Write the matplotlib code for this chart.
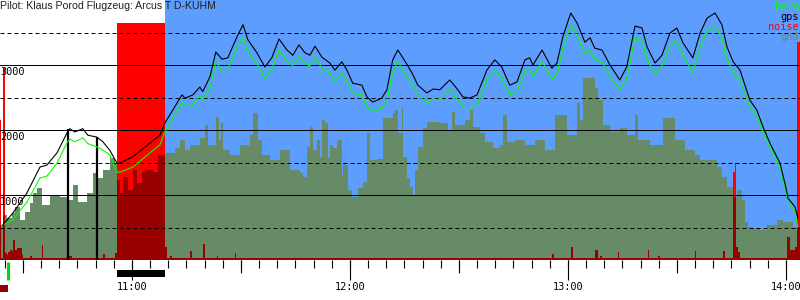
import numpy as np
import matplotlib
matplotlib.use('Agg')
import matplotlib.pyplot as plt
from matplotlib.patches import Rectangle

# time axis: minutes after 10:00
t_start = 23.7
t_end = 243.9

# gps / baro altitude (m)
t = [24.5, 27.2, 31.1, 34.7, 36.6, 39.4, 42.1, 42.9, 44.3, 46.5,
     47.9, 50.4, 52.0, 53.9, 55.9, 56.7, 60.3, 65.0, 67.7, 69.1,
     71.3, 73.8, 74.6, 76.8, 78.7, 79.5, 81.5, 83.1, 84.8, 86.4,
     88.9, 90.6, 91.9, 94.4, 96.6, 98.5, 100.5, 102.7, 104.3, 106.0,
     107.6, 109.0, 110.4, 112.3, 114.5, 115.9, 117.8, 119.2, 120.8, 123.3,
     124.7, 126.3, 128.8, 130.2, 131.8, 133.2, 134.6, 137.1, 138.7, 141.2,
     142.9, 144.8, 147.5, 149.7, 151.1, 153.0, 155.0, 157.7, 159.9, 161.8,
     164.0, 166.0, 168.2, 169.5, 170.4, 172.9, 175.6, 177.0, 178.6, 180.8,
     182.5, 184.7, 186.1, 187.4, 189.4, 191.6, 194.3, 196.2, 198.5, 200.4,
     201.8, 204.0, 205.9, 208.1, 210.0, 211.7, 214.4, 216.4, 218.3, 220.5,
     222.4, 223.8, 225.5, 227.4, 230.1, 232.0, 233.7, 235.6, 238.4, 240.0,
     240.6, 242.5, 243.3]
gps = [540, 720, 1030, 1430, 1460, 1650, 1950, 2020, 1970, 2020,
       1920, 1890, 1820, 1690, 1490, 1490, 1590, 1800, 1920, 2110,
       2310, 2540, 2490, 2540, 2660, 2590, 2820, 3200, 3090, 3110,
       3430, 3620, 3390, 3190, 2970, 3110, 3400, 3230, 3150, 3310,
       3190, 3150, 3290, 3120, 3030, 2920, 3050, 2920, 2720, 2690,
       2510, 2430, 2490, 2620, 3080, 3230, 3110, 2880, 2690, 2570,
       2630, 2620, 2770, 2620, 2510, 2490, 2540, 2920, 3080, 2970,
       2690, 2740, 3080, 3110, 3000, 3230, 2950, 3030, 3430, 3800,
       3650, 3350, 3420, 3260, 3230, 3000, 2770, 2970, 3600, 3570,
       3280, 3030, 3150, 3490, 3570, 3340, 3110, 3490, 3720, 3800,
       3620, 3280, 3050, 2920, 2460, 2310, 2050, 1800, 1490, 1120,
       950, 820, 650]
baro = [540, 620, 890, 1260, 1290, 1490, 1800, 1860, 1820, 1880,
        1790, 1740, 1690, 1620, 1350, 1350, 1430, 1650, 1770, 1970,
        2190, 2430, 2370, 2390, 2520, 2460, 2660, 3050, 2920, 2940,
        3250, 3430, 3200, 3020, 2800, 2940, 3230, 3060, 2990, 3140,
        3020, 2990, 3120, 2950, 2860, 2750, 2880, 2750, 2570, 2540,
        2350, 2280, 2340, 2450, 2890, 3050, 2920, 2710, 2540, 2420,
        2480, 2460, 2620, 2460, 2350, 2340, 2390, 2770, 2910, 2800,
        2540, 2590, 2910, 2940, 2830, 3050, 2790, 2860, 3250, 3620,
        3460, 3170, 3230, 3080, 3050, 2830, 2620, 2800, 3420, 3390,
        3090, 2860, 2990, 3290, 3370, 3140, 2890, 3290, 3520, 3590,
        3420, 3090, 2880, 2770, 2350, 2220, 1970, 1740, 1430, 1060,
        910, 740, 510]

# ground elevation under the track (m), step values
gnd_t = [23.7, 24.5, 25.6, 27.0, 27.8, 29.2, 30.5, 31.9, 32.8, 33.9,
         35.2, 37.4, 40.2, 42.4, 43.8, 45.1, 47.6, 49.3, 50.4, 52.0,
         53.9, 55.3, 55.9, 56.7, 57.5, 58.9, 60.3, 61.4, 62.8, 63.6,
         65.8, 67.2, 69.1, 71.8, 73.2, 74.6, 76.0, 78.7, 80.1, 80.9,
         83.1, 83.9, 84.5, 85.0, 87.0, 89.7, 92.5, 93.3, 94.7, 95.8,
         98.0, 100.7, 103.5, 106.2, 107.1, 108.2, 109.0, 109.8, 110.9, 111.7,
         112.3, 113.1, 113.9, 114.5, 115.3, 116.4, 117.8, 118.1, 118.6, 119.5,
         120.6, 122.2, 123.6, 124.7, 125.5, 127.4, 129.1, 131.8, 132.4, 133.2,
         134.3, 134.6, 135.7, 136.5, 137.3, 137.9, 138.7, 140.1, 141.2, 144.8,
         147.0, 148.1, 148.9, 151.7, 153.0, 153.9, 155.8, 157.2, 159.4, 161.3,
         162.1, 163.2, 165.4, 168.2, 170.9, 173.7, 176.4, 179.7, 182.5, 183.3,
         184.1, 186.9, 187.4, 188.3, 189.6, 191.6, 194.3, 196.2, 198.5, 199.3,
         202.6, 206.2, 209.5, 212.2, 215.0, 216.4, 221.0, 222.4, 223.8, 225.5,
         226.5, 227.9, 228.7, 229.5, 230.9, 232.8, 234.8, 237.5, 239.2, 241.9,
         243.9]
gnd = [540, 690, 650, 720, 820, 620, 740, 880, 1030, 1110,
       850, 1000, 970, 920, 1150, 890, 1030, 1340, 1260, 1380,
       1570, 1490, 1230, 1030, 1280, 1080, 1380, 1180, 1350, 1380,
       1350, 1620, 1650, 1720, 1850, 1690, 1770, 1880, 2080, 1770,
       2200, 1850, 2110, 1690, 1620, 1770, 1920, 2260, 1850, 1620,
       1540, 1690, 1380, 1340, 1280, 1740, 2050, 1690, 1850, 1580,
       2150, 2110, 1570, 1770, 1720, 1850, 1310, 1490, 1460, 1080,
       970, 1110, 1200, 1950, 1540, 1550, 2180, 2260, 2310, 1950,
       2350, 1580, 1260, 1120, 1000, 1380, 1740, 2030, 2120, 2110,
       2000, 2280, 2080, 2150, 2310, 2050, 1950, 1820, 1720, 1770,
       2230, 1820, 1850, 1770, 1850, 1690, 2230, 1920, 2420, 2150,
       2800, 2820, 2650, 2460, 2080, 1970, 2030, 1920, 2230, 1850,
       1770, 2180, 1850, 1690, 1620, 1540, 1430, 1280, 1120, 970,
       1080, 920, 580, 510, 490, 460, 540, 620, 580, 510,
       510]

# engine noise level (permille), step values
noise_t = [23.7, 24.1, 24.6, 25.1, 25.6, 25.9, 26.4, 27.0, 27.2, 27.8,
           28.3, 29.7, 30.0, 31.9, 32.5, 35.2, 35.5, 42.4, 43.5, 52.0,
           52.6, 55.3, 55.8, 69.2, 69.6, 70.5, 71.0, 76.0, 76.5, 79.5,
           80.1, 83.4, 83.7, 88.4, 88.6, 175.6, 176.2, 180.8, 181.4, 187.4,
           188.3, 188.8, 189.4, 193.8, 194.0, 202.0, 202.3, 204.8, 205.3, 215.0,
           215.2, 222.7, 223.2, 225.5, 226.0, 226.4, 226.8, 227.4, 240.3, 241.1,
           242.5, 243.0, 243.9]
noise = [590, 8, 810, 30, 21, 34, 42, 38, 84, 42,
         51, 21, 8, 17, 8, 63, 8, 17, 8, 25,
         8, 30, 1000, 55, 8, 17, 8, 38, 8, 68,
         8, 17, 8, 30, 8, 25, 8, 55, 8, 42,
         8, 17, 8, 34, 8, 42, 8, 17, 8, 38,
         8, 38, 8, 370, 410, 55, 34, 8, 97, 42,
         55, 920, 920]
noise_full = 3646  # altitude (m) drawn for noise = 1000

# events
engine_on, engine_off = 55.8, 69.2
task_start = 69.2
takeoff_t = 25.8
marks_t = [42.4, 50.4]
marks_alt = [2015, 1892]

grid_levels = [500, 1000, 1500, 2000, 2500, 3000, 3500]
alt_labels = [1000, 2000, 3000]
hour_t = [60, 120, 180, 240]
hour_lbl = ['11:00', '12:00', '13:00', '14:00']

BLUE = '#5c9dfd'
GND = '#668b66'
DARKRED = '#990000'
mono = 'DejaVu Sans Mono'

fig = plt.figure(figsize=(8, 3), dpi=100)
fig.patch.set_facecolor('white')
ax = fig.add_axes([0, 40 / 300, 1, 260 / 300])
AX_H = 260.0
ax.set_xlim(t_start, t_end)
ax.set_ylim(0, 4000)
ax.set_axis_off()

ax.axvspan(task_start, t_end, color=BLUE, lw=0, zorder=0)

noise_m = np.array(noise) * noise_full / 1000.0
ax.fill_between(noise_t, 0, noise_m, step='post', color='#ff0000', lw=0, zorder=1)
gpoly = ax.fill_between(gnd_t, 0, gnd, step='post', color=GND, lw=0, zorder=2)
dark = ax.fill_between(noise_t, 0, noise_m, step='post', color=DARKRED, lw=0, zorder=3)
dark.set_clip_path(gpoly.get_paths()[0], ax.transData)

for v in grid_levels:
    ls = '-' if v % 1000 == 0 else (0, (4, 3))
    ax.axhline(v, color='black', lw=0.72, ls=ls, zorder=4)

ax.vlines(marks_t, 0, marks_alt, color='black', lw=1.6, zorder=5)
ax.plot(t, baro, color='#00ff00', lw=0.8, zorder=6)
ax.plot(t, gps, color='black', lw=0.8, zorder=7)

# time ticks below the chart
xt = ax.get_xaxis_transform()
minor = np.arange(25, t_end, 5)
ax.vlines(minor, -8 / AX_H, 0, color='black', lw=0.8, transform=xt, clip_on=False)
half = np.arange(30, t_end, 60)
ax.vlines(half, -13 / AX_H, 0, color='black', lw=0.8, transform=xt, clip_on=False)
ax.vlines(hour_t, -20 / AX_H, 0, color='black', lw=0.8, transform=xt, clip_on=False)
for ht, lb in zip(hour_t, hour_lbl):
    ax.annotate(lb, (ht, 0), xycoords=xt, xytext=(0, -22), textcoords='offset pixels',
                ha='center', va='top', fontsize=7.4, family=mono, color='black')

ax.vlines([takeoff_t], -20 / AX_H, -2 / AX_H, color='#00dd00', lw=2.2, transform=xt, clip_on=False)
ax.add_patch(Rectangle((t_start, -32 / AX_H), takeoff_t - t_start, 7 / AX_H, transform=xt,
                       color=DARKRED, lw=0, clip_on=False))
ax.add_patch(Rectangle((engine_on, -17 / AX_H), engine_off - engine_on, 7 / AX_H, transform=xt,
                       color='black', lw=0, clip_on=False))

yt = ax.get_yaxis_transform()
for v in alt_labels:
    ax.annotate(str(v), (0, v), xycoords=yt, xytext=(0, -2), textcoords='offset pixels',
                ha='left', va='top', fontsize=7.4, family=mono, color='black', zorder=10)

fig.text(0, 1 - 1 / 300, 'Pilot: Klaus Porod Flugzeug: Arcus T D-KUHM', ha='left', va='top',
         fontsize=7.6, family='Liberation Sans', color='#202020')

leg = [('baro', '#00ff00'), ('gps', 'black'), ('noise', '#ff0000'), ('gnd', GND)]
for i, (name, col) in enumerate(leg):
    fig.text(799 / 800, 1 - (10 + 10 * i) / 300, name, ha='right', va='baseline',
             fontsize=7.4, family=mono, color=col)

fig.savefig('out.png', dpi=100)
